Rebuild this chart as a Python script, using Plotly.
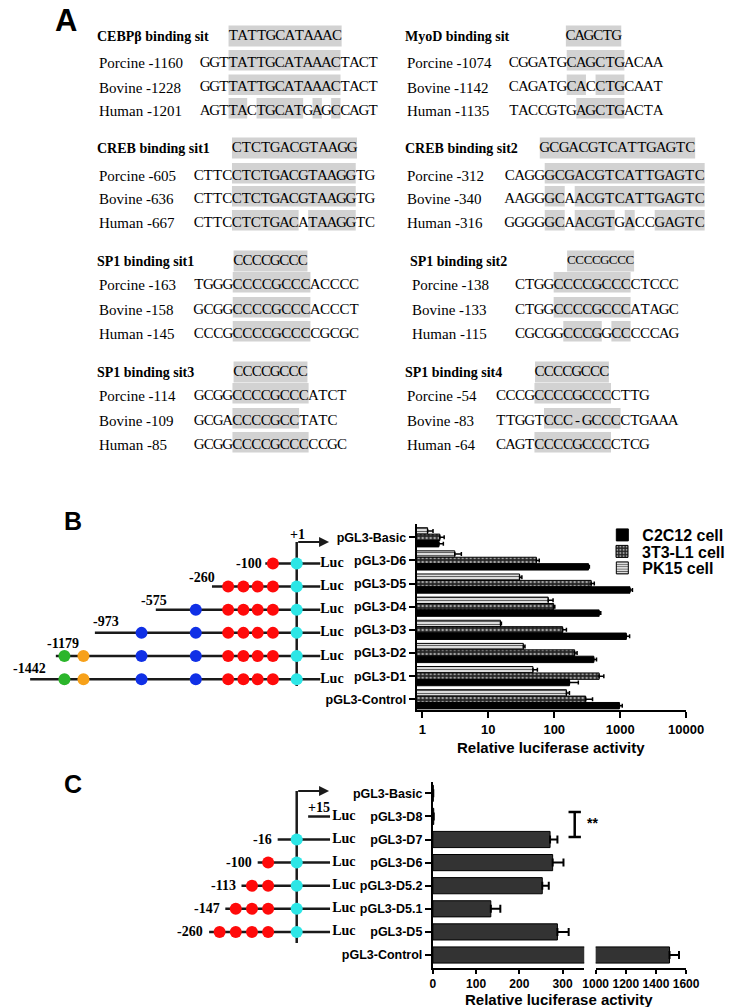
import plotly.graph_objects as go

W, H = 730, 1007
SERIF = "Liberation Serif"
SANS = "Liberation Sans"

# ====================== Panel A data ======================
site_titles = ["CEBPβ binding sit", "MyoD binding sit", "CREB binding sit1", "CREB binding sit2",
               "SP1 binding sit1", "SP1 binding sit2", "SP1 binding sit3", "SP1 binding sit4"]
site_consensus = ["TATTGCATAAAC", "CAGCTG", "CTCTGACGTAAGG", "GCGACGTCATTGAGTC",
                  "CCCCGCCC", "CCCCGCCC", "CCCCGCCC", "CCCCGCCC"]
species_labels = [
    ["Porcine -1160", "Bovine -1228", "Human -1201"],
    ["Porcine -1074", "Bovine -1142", "Human -1135"],
    ["Porcine -605", "Bovine -636", "Human -667"],
    ["Porcine -312", "Bovine -340", "Human -316"],
    ["Porcine -163", "Bovine -158", "Human -145"],
    ["Porcine -138", "Bovine -133", "Human -115"],
    ["Porcine -114", "Bovine -109", "Human -85"],
    ["Porcine -54", "Bovine -83", "Human -64"],
]
species_seqs = [
    ["GGTTATTGCATAAACTACT", "GGTTATTGCATAAACTACT", "AGTTACTGCATGAGCCAGT"],
    ["CGGATGCAGCTGACAA", "CAGATGCACCTGCAAT", "TACCGTGAGCTGACTA"],
    ["CTTCCTCTGACGTAAGGTG", "CTTCCTCTGACGTAAGGTG", "CTTCCTCTGACATAAGGTC"],
    ["CAGGGCGACGTCATTGAGTC", "AAGGGCAACGTCATTGAGTC", "GGGGGCAACGTGACCGAGTC"],
    ["TGGGCCCCGCCCACCCC", "GCGGCCCCGCCCACCCT", "CCCGCCCCGCCCCGCGC"],
    ["CTGGCCCCGCCCCTCCC", "CTGGCCCCGCCCATAGC", "CGCGGCCCGGCCCCCAG"],
    ["GCGGCCCCGCCCATCT", "GCGACCCCGCCTATC", "GCGGCCCCGCCCCCGC"],
    ["CCCGCCCCGCCCCTTG", "TTGGTCCC-GCCCCTGAAA", "CAGTCCCCGCCCCTCG"],
]
# '#' = conserved (shaded) base
species_masks = [
    ["...############....", "...############....", "...##.#####.#.#...."],
    ["......######....", "......##.###....", ".......#####...."],
    ["....#############..", "....#############..", "....#######.#####.."],
    ["....################", "....##.#############", "....##.####.#..#####"],
    ["....########.....", "....########.....", "....########....."],
    ["....########.....", "....########.....", ".....####.##....."],
    ["....########....", "....#######....", "....########...."],
    ["....########....", ".....########......", "....########...."],
]

# ====================== Panel B data ======================
constructs_B = ["pGL3-Basic", "pGL3-D6", "pGL3-D5", "pGL3-D4", "pGL3-D3", "pGL3-D2", "pGL3-D1", "pGL3-Control"]
c2c12 = [1.78, 331, 1410, 480, 1240, 398, 170, 975]
c2c12_err = [0.3, 10, 125, 28, 150, 40, 62, 100]
t3l1 = [1.84, 53.6, 363, 98, 134, 204, 480, 300]
t3l1_err = [0.3, 5.6, 42, 4, 19, 18, 85, 81]
pk15 = [1.2, 3.1, 29.8, 81, 15.3, 34, 47.5, 153]
pk15_err = [0.25, 0.8, 2.5, 15, 0.5, 2, 8, 17]
ticks_B = [1, 10, 100, 1000, 10000]

# promoter schematic B (schematic positions)
diagB_rows = ["pGL3-D6", "pGL3-D5", "pGL3-D4", "pGL3-D3", "pGL3-D2", "pGL3-D1"]
diagB_start_label = ["-100", "-260", "-575", "-973", "-1179", "-1442"]
diagB_start = [265, 209, 150, 86, 45, 18]
site_pos_B = [54, 74, 135, 192, 226, 242, 257, 273, 298]
site_kind_B = ["green", "orange", "blue", "blue", "red", "red", "red", "red", "tss"]

# ====================== Panel C data ======================
constructs_C = ["pGL3-Basic", "pGL3-D8", "pGL3-D7", "pGL3-D6", "pGL3-D5.2", "pGL3-D5.1", "pGL3-D5", "pGL3-Control"]
activity_C = [1, 2, 271, 277, 253, 134, 288, 1490]
activity_C_err = [0, 0, 17, 25, 15, 22, 26, 63]
ticks_C_left = [0, 100, 200, 300]
ticks_C_right = [1000, 1200, 1400, 1600]
range_C_left = [0, 350]
range_C_right = [1000, 1600]

diagC_rows = ["pGL3-D8", "pGL3-D7", "pGL3-D6", "pGL3-D5.2", "pGL3-D5.1", "pGL3-D5"]
diagC_start_label = ["+15", "-16", "-100", "-113", "-147", "-260"]
diagC_start = [310, 278, 257, 240, 223, 206]
site_pos_C = [217, 234, 251, 268, 298]
site_kind_C = ["red", "red", "red", "red", "tss"]

SITE_COLORS = {"green": "#2bb52b", "orange": "#f7a11a", "blue": "#1030e6", "red": "#ff0a0a", "tss": "#2de6e6"}

# ====================== layout constants ======================
A_label_x = [88, 412, 88, 412, 88, 417, 88, 412]
A_seq_x = [197, 521, 190, 516.5, 190, 527.5, 190.5, 507.5]
A_pitch = [9.8, 10.1, 10.0, 10.5, 10.2, 10.1, 10.0, 10.05]
A_head_x = [226.4, 580.7, 230, 553.3, 231.7, 582, 231.7, 548.3]
A_head_pitch = [9.9, 9.7, 10.1, 10.2, 9.7, 8.8, 9.7, 9.7]
A_head_font = [15, 15, 15, 15, 15, 13, 15, 15]
A_rows_y = [[36, 63, 87.5, 111], [36, 63, 87.5, 111],
            [148, 176, 199, 223], [148, 176, 199, 223],
            [261, 285, 310, 334], [261, 285, 310, 334],
            [372, 396, 421, 445], [372, 396, 421, 445]]
SHADE = "#d2d2d2"

# B plot geometry (pixels)
B_left, B_right, B_top, B_bot = 424, 707, 524, 710
B_first, B_step = 537.3, 23.14
C_left, C_brk_l, C_brk_r, C_right, C_top, C_bot = 441, 600, 612, 707, 782, 968
C_first, C_step = 793.3, 23.1

fig = go.Figure()
shapes = []
ann = []


def px_rect(x0, x1, y0, y1, color=SHADE):
    shapes.append(dict(type="rect", xref="x6", yref="y6", x0=x0, x1=x1, y0=y0, y1=y1,
                       fillcolor=color, line=dict(width=0), layer="below"))


# ---------------- Panel A ----------------
cx, cy, ct = [], [], []
hx_, hy_, ht_, hs_ = [], [], [], []
for b in range(8):
    ys = A_rows_y[b]
    ann.append(dict(x=A_label_x[b] - 2, y=ys[0], xref="x6", yref="y6", text="<b>%s</b>" % site_titles[b],
                    showarrow=False, xanchor="left", yanchor="middle",
                    font=dict(family=SERIF, size=14, color="black")))
    cons = site_consensus[b]
    hx, hp = A_head_x[b], A_head_pitch[b]
    px_rect(hx, hx + hp * len(cons), ys[0] - 10.5, ys[0] + 10.5)
    for i, ch in enumerate(cons):
        hx_.append(hx + hp * (i + 0.5)); hy_.append(ys[0]); ht_.append(ch); hs_.append(A_head_font[b])
    for r in range(3):
        y = ys[r + 1]
        ann.append(dict(x=A_label_x[b], y=y, xref="x6", yref="y6", text=species_labels[b][r],
                        showarrow=False, xanchor="left", yanchor="middle",
                        font=dict(family=SERIF, size=15, color="black")))
        seq, mask = species_seqs[b][r], species_masks[b][r]
        sx, p = A_seq_x[b], A_pitch[b]
        for i, ch in enumerate(seq):
            cx.append(sx + p * (i + 0.5)); cy.append(y); ct.append(ch)
        i = 0
        while i < len(mask):
            if mask[i] == "#":
                j = i
                while j + 1 < len(mask) and mask[j + 1] == "#":
                    j += 1
                px_rect(sx + p * i, sx + p * (j + 1), y - 13, y + 7.5)
                i = j + 1
            else:
                i += 1

fig.add_trace(go.Scatter(x=cx, y=cy, text=ct, mode="text", textposition="middle center",
                         textfont=dict(family=SERIF, size=15, color="black"),
                         xaxis="x6", yaxis="y6", hoverinfo="skip", showlegend=False))
fig.add_trace(go.Scatter(x=hx_, y=hy_, text=ht_, mode="text", textposition="middle center",
                         textfont=dict(family=SERIF, size=hs_, color="black"),
                         xaxis="x6", yaxis="y6", hoverinfo="skip", showlegend=False))

# ---------------- Panel B bars ----------------
yB = list(range(len(constructs_B)))
series_B = [
    ("PK15 cell", pk15, pk15_err, "#dcdcdc", dict(shape="-", bgcolor="#dcdcdc", fgcolor="#555555", size=3, solidity=0.3), "legend3"),
    ("3T3-L1 cell", t3l1, t3l1_err, "#2a2a2a", dict(shape=".", bgcolor="#262626", fgcolor="#a0a0a0", size=4, solidity=0.35), "legend2"),
    ("C2C12 cell", c2c12, c2c12_err, "#000000", None, "legend"),
]
for name, vals, errs, col, pat, leg in series_B:
    marker = dict(color=col, line=dict(color="black", width=1))
    if pat:
        marker["pattern"] = dict(fillmode="replace", **pat)
    fig.add_trace(go.Bar(name="<b>%s</b>" % name, x=vals, y=yB, orientation="h", xaxis="x", yaxis="y",
                         marker=marker, legend=leg, hoverinfo="skip",
                         error_x=dict(type="data", symmetric=False, array=errs, arrayminus=[0] * len(vals),
                                      color="black", thickness=1.5, width=2)))

# ---------------- Panel B schematic ----------------
rowB = {c: i for i, c in enumerate(constructs_B)}
DY_B = 0.13
lx, ly = [], []
mx, my, mc = [], [], []
for k, c in enumerate(diagB_rows):
    y = rowB[c] + DY_B
    lx += [diagB_start[k], 322.7, None]; ly += [y, y, None]
    for pos, kind in zip(site_pos_B, site_kind_B):
        if pos > diagB_start[k]:
            mx.append(pos); my.append(y); mc.append(SITE_COLORS[kind])
lx += [298, 298]; ly += [0.2, 6.43]
fig.add_trace(go.Scatter(x=lx, y=ly, mode="lines", line=dict(color="#1a1a1a", width=2.5),
                         xaxis="x4", yaxis="y", hoverinfo="skip", showlegend=False))
fig.add_trace(go.Scatter(x=mx, y=my, mode="markers", marker=dict(color=mc, size=12, line=dict(width=0)),
                         xaxis="x4", yaxis="y", hoverinfo="skip", showlegend=False))
fig.add_trace(go.Scatter(x=[335] * len(diagB_rows), y=[rowB[c] + DY_B for c in diagB_rows], text=["Luc"] * len(diagB_rows),
                         mode="text", textposition="middle center",
                         textfont=dict(family=SERIF, size=14, color="black", weight="bold"),
                         xaxis="x4", yaxis="y", hoverinfo="skip", showlegend=False))
B_label_x = [248, 199, 148, 97.5, 52, 17]
B_label_dy = [0, -0.38, -0.4, -0.47, -0.54, -0.46]
for k, c in enumerate(diagB_rows):
    ann.append(dict(x=B_label_x[k], y=rowB[c] + DY_B + B_label_dy[k], xref="x4", yref="y",
                    text="<b>%s</b>" % diagB_start_label[k], showarrow=False, xanchor="center", yanchor="middle",
                    font=dict(family=SERIF, size=14, color="black")))
ann.append(dict(x=299, y=-0.1, xref="x4", yref="y", text="<b>+1</b>", showarrow=False,
                font=dict(family=SERIF, size=14, color="black")))
ann.append(dict(x=332, y=0.2, ax=298, ay=0.2, xref="x4", yref="y", axref="x4", ayref="y", text="",
                showarrow=True, arrowhead=2, arrowsize=1, arrowwidth=2, arrowcolor="#1a1a1a"))

# ---------------- Panel C bars ----------------
yC = list(range(len(constructs_C)))
for xa in ("x2", "x3"):
    fig.add_trace(go.Bar(x=activity_C, y=yC, orientation="h", xaxis=xa, yaxis="y2", width=0.7,
                         marker=dict(color="#333333", line=dict(color="black", width=1)),
                         showlegend=False, hoverinfo="skip",
                         error_x=dict(type="data", symmetric=False, array=activity_C_err,
                                      arrayminus=[0] * len(activity_C), color="black", thickness=2, width=4)))

# ---------------- Panel C schematic ----------------
rowC = {c: i for i, c in enumerate(constructs_C)}
lx, ly = [], []
mx, my, mc = [], [], []
for k, c in enumerate(diagC_rows):
    y = rowC[c]
    lx += [diagC_start[k], 333, None]; ly += [y, y, None]
    for pos, kind in zip(site_pos_C, site_kind_C):
        if pos > diagC_start[k]:
            mx.append(pos); my.append(y); mc.append(SITE_COLORS[kind])
lx += [298, 298]; ly += [-0.1, 6.48]
fig.add_trace(go.Scatter(x=lx, y=ly, mode="lines", line=dict(color="#1a1a1a", width=2.5),
                         xaxis="x5", yaxis="y2", hoverinfo="skip", showlegend=False))
fig.add_trace(go.Scatter(x=mx, y=my, mode="markers", marker=dict(color=mc, size=12, line=dict(width=0)),
                         xaxis="x5", yaxis="y2", hoverinfo="skip", showlegend=False))
fig.add_trace(go.Scatter(x=[347.5] * len(diagC_rows), y=[rowC[c] for c in diagC_rows], text=["Luc"] * len(diagC_rows),
                         mode="text", textposition="middle center",
                         textfont=dict(family=SERIF, size=14, color="black", weight="bold"),
                         xaxis="x5", yaxis="y2", hoverinfo="skip", showlegend=False))
for k, c in enumerate(diagC_rows):
    if diagC_start_label[k].startswith("+"):
        ann.append(dict(x=(diagC_start[k] + 333) / 2, y=rowC[c] - 0.38, xref="x5", yref="y2",
                        text="<b>%s</b>" % diagC_start_label[k], showarrow=False,
                        font=dict(family=SERIF, size=14, color="black")))
    else:
        ann.append(dict(x=diagC_start[k] - 4, y=rowC[c], xref="x5", yref="y2",
                        text="<b>%s</b>" % diagC_start_label[k], showarrow=False, xanchor="right", yanchor="middle",
                        font=dict(family=SERIF, size=14, color="black")))
ann.append(dict(x=299, y=-0.5, xref="x5", yref="y2", text="<b>+1</b>", showarrow=False,
                font=dict(family=SERIF, size=14, color="black")))
ann.append(dict(x=332, y=-0.1, ax=298, ay=-0.1, xref="x5", yref="y2", axref="x5", ayref="y2", text="",
                showarrow=True, arrowhead=2, arrowsize=1, arrowwidth=2, arrowcolor="#1a1a1a"))

# significance bracket (D8 vs D7)
for (x0, x1, y0, y1) in [(590, 590, 812, 837), (583.5, 596.5, 812, 812), (583.5, 596.5, 837, 837)]:
    shapes.append(dict(type="line", xref="x6", yref="y6", x0=x0, x1=x1, y0=y0, y1=y1,
                       line=dict(color="black", width=2.5)))
ann.append(dict(x=601, y=823, xref="x6", yref="y6", text="<b>**</b>", showarrow=False, xanchor="left",
                font=dict(family=SANS, size=14, color="black")))

# axis titles & panel letters
for (x, y, t) in [(565, 747, "Relative luciferase activity"), (574, 999.5, "Relative luciferase activity")]:
    ann.append(dict(x=x, y=y, xref="x6", yref="y6", text="<b>%s</b>" % t, showarrow=False,
                    font=dict(family=SANS, size=15, color="black")))
for (x, y, t, s) in [(56, 20, "A", 31), (63, 521, "B", 25), (63, 784, "C", 25)]:
    ann.append(dict(x=x, y=y, xref="x6", yref="y6", text="<b>%s</b>" % t, showarrow=False,
                    font=dict(family=SANS, size=s, color="black")))

# ---------------- layout ----------------
def pdx(p):
    return p / W


def pdy(p):
    return 1 - p / H


axis_common = dict(showline=True, linecolor="black", linewidth=2, ticks="outside", ticklen=6, tickwidth=2,
                   tickcolor="black", showgrid=False, zeroline=False, tickangle=0,
                   tickfont=dict(family=SANS, size=13, color="black"))
catfont = dict(family=SANS, size=12.5, color="black")
ctick = dict(family=SANS, size=12, color="black")
B_rng = [7 + (B_bot - (B_first + 7 * B_step)) / B_step, -(B_first - B_top) / B_step]
C_rng = [7 + (C_bot - (C_first + 7 * C_step)) / C_step, -(C_first - C_top) / C_step]
dec = (B_right - 430) / 4.0
hidden = dict(visible=False, showgrid=False, zeroline=False)

legend_common = dict(xanchor="left", yanchor="middle", bgcolor="rgba(0,0,0,0)", borderwidth=0,
                     font=dict(family=SANS, size=16, color="black"), itemwidth=30)

fig.update_layout(
    width=W, height=H, margin=dict(l=0, r=0, t=0, b=0, pad=0),
    paper_bgcolor="white", plot_bgcolor="rgba(0,0,0,0)",
    barmode="group", bargap=0.17, bargroupgap=0, hovermode=False,
    xaxis=dict(domain=[pdx(B_left), pdx(B_right)], type="log", range=[-(430 - B_left) / dec, 4], anchor="y",
               tickvals=ticks_B, ticktext=["<b>%d</b>" % v for v in ticks_B], **axis_common),
    yaxis=dict(domain=[pdy(B_bot), pdy(B_top)], range=B_rng, anchor="x",
               tickvals=yB, ticktext=["<b>%s</b>" % c for c in constructs_B], **{**axis_common, "tickfont": catfont}),
    xaxis2=dict(domain=[pdx(C_left), pdx(C_brk_l)], range=range_C_left, anchor="y2",
                tickvals=ticks_C_left, ticktext=["<b>%d</b>" % v for v in ticks_C_left],
                **{**axis_common, "tickfont": ctick, "ticklen": 4}),
    xaxis3=dict(domain=[pdx(C_brk_r), pdx(C_right)], range=range_C_right, anchor="y2",
                tickvals=ticks_C_right, ticktext=["<b>%d</b>" % v for v in ticks_C_right],
                **{**axis_common, "tickfont": ctick, "ticklen": 4}),
    yaxis2=dict(domain=[pdy(C_bot), pdy(C_top)], range=C_rng, anchor="x2",
                tickvals=yC, ticktext=["<b>%s</b>" % c for c in constructs_C], **{**axis_common, "tickfont": catfont}),
    xaxis4=dict(domain=[0, pdx(B_left)], range=[0, B_left], anchor="y", **hidden),
    xaxis5=dict(domain=[0, pdx(C_left)], range=[0, C_left], anchor="y2", **hidden),
    xaxis6=dict(domain=[0, 1], range=[0, W], anchor="y6", **hidden),
    yaxis6=dict(domain=[0, 1], range=[H, 0], anchor="x6", **hidden),
    legend=dict(x=pdx(619), y=pdy(535), **legend_common),
    legend2=dict(x=pdx(619), y=pdy(551.5), **legend_common),
    legend3=dict(x=pdx(619), y=pdy(568), **legend_common),
    shapes=shapes, annotations=ann,
)

fig.write_html("out.html", config={"displayModeBar": False, "staticPlot": True},
               post_script="document.body.style.margin='0px';document.body.style.overflow='hidden';")
